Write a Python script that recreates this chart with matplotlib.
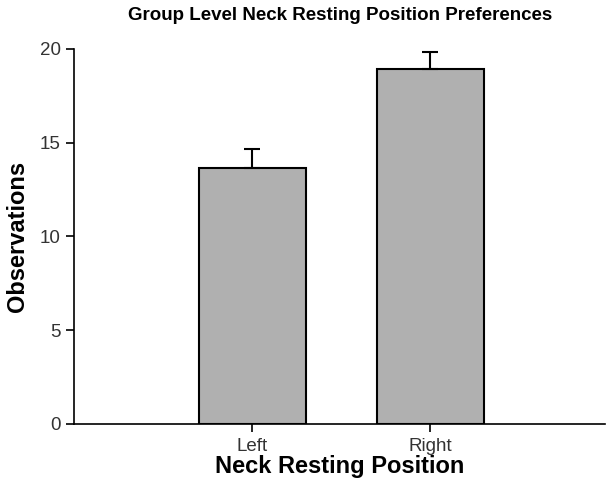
import matplotlib
matplotlib.use("Agg")
from matplotlib import pyplot as plt

# data
positions = ["Left", "Right"]
observations = [13.65, 18.95]
err_up = [1.0, 0.9]

plt.rcParams["font.family"] = ["Liberation Sans", "DejaVu Sans"]

fig = plt.figure(figsize=(6.08, 4.84), dpi=100)
ax = fig.add_axes([0.122, 0.124, 0.873, 0.775])

x = range(len(positions))
ax.bar(x, observations, width=0.6, color="#b0b0b0", edgecolor="black",
       linewidth=1.5, zorder=2)
ax.errorbar(x, observations, yerr=[[0, 0], err_up], fmt="none",
            ecolor="black", elinewidth=1.5, capsize=6, capthick=1.5, zorder=3)

ax.set_xlim(-1, 1.98)
ax.set_ylim(0, 20)
ax.set_yticks([0, 5, 10, 15, 20])
ax.set_xticks(list(x))
ax.set_xticklabels(positions)
ax.tick_params(axis="both", direction="out", length=6, width=1.2,
               labelsize=13.5, labelcolor="#333333")
ax.tick_params(axis="x", pad=4)
for side in ["top", "right"]:
    ax.spines[side].set_visible(False)
for side in ["left", "bottom"]:
    ax.spines[side].set_linewidth(1.2)

ax.set_xlabel("Neck Resting Position", fontsize=17, fontweight="bold", labelpad=0)
ax.set_ylabel("Observations", fontsize=17, fontweight="bold", labelpad=8)
fig.suptitle("Group Level Neck Resting Position Preferences", fontsize=13.5,
             fontweight="bold", x=0.559, y=0.985)

fig.savefig("out.png", dpi=100)
plt.close(fig)
